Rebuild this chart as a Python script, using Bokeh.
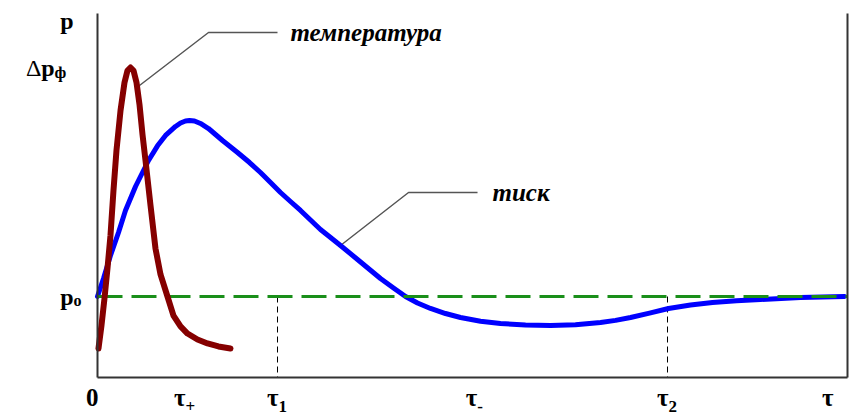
from bokeh.plotting import figure
from bokeh.models import (LinearAxis, FixedTicker, Label, LabelSet,
                          ColumnDataSource, Range1d)
from bokeh.embed import file_html
from bokeh.resources import INLINE

# ---- data (time in arbitrary units, pressure relative to p0) ----
t_axis_end = 10.0                  # right end of the time axis
p_axis_min, p_axis_max = -1.0, 3.494
p0 = 0.0

pressure_t = [0.0, 0.08, 0.173, 0.28, 0.373, 0.507, 0.68, 0.8, 0.907, 1.04,
              1.107, 1.173, 1.227, 1.293, 1.373, 1.48, 1.667, 1.867, 2.027,
              2.173, 2.307, 2.44, 2.573, 2.707, 2.84, 2.973, 3.107, 3.24,
              3.467, 3.773, 3.947, 4.107, 4.267, 4.44, 4.64, 4.84, 5.107,
              5.373, 5.707, 6.04, 6.373, 6.707, 6.907, 7.107, 7.36, 7.613,
              7.907, 8.2, 8.52, 8.84, 9.373, 9.96]
pressure_p = [0.0, 0.222, 0.506, 0.79, 1.062, 1.358, 1.679, 1.86, 1.988,
              2.099, 2.142, 2.167, 2.173, 2.167, 2.136, 2.074, 1.926, 1.778,
              1.654, 1.531, 1.407, 1.284, 1.173, 1.062, 0.944, 0.827, 0.728,
              0.63, 0.457, 0.222, 0.105, 0.0, -0.08, -0.148, -0.21, -0.259,
              -0.305, -0.333, -0.352, -0.358, -0.35, -0.321, -0.295, -0.259,
              -0.205, -0.148, -0.105, -0.074, -0.052, -0.037, -0.012, 0.0]

temp_t = [0.013, 0.053, 0.093, 0.133, 0.173, 0.213, 0.253, 0.307, 0.36,
          0.4, 0.44, 0.48, 0.52, 0.56, 0.6, 0.64, 0.707, 0.773, 0.84, 0.933,
          1.013, 1.107, 1.2, 1.333, 1.467, 1.613, 1.773]
temp_v = [-0.642, -0.358, -0.025, 0.346, 0.753, 1.309, 1.802, 2.296, 2.642,
          2.79, 2.827, 2.79, 2.642, 2.37, 2.0, 1.679, 1.123, 0.593, 0.272,
          0.0, -0.235, -0.37, -0.457, -0.531, -0.58, -0.617, -0.642]

x_tick_values = [0.0, 1.16, 2.4, 5.05, 7.6, 9.8]
x_tick_main = ["0", "τ", "τ", "τ", "τ", "τ"]
x_tick_sub = ["", "+", "1", "-", "2", ""]
marker_times = [2.4, 7.6]          # τ1, τ2
dp_phi = max(temp_v)               # Δpф level
p_axis_top = 3.40                  # "p" axis name level

# callout geometry (annotation)
temp_callout_t = [0.56, 1.48, 2.4]
temp_callout_v = [2.605, 3.259, 3.259]
pres_callout_t = [3.24, 4.147, 5.067]
pres_callout_v = [0.63, 1.284, 1.284]

SERIF = "Liberation Serif"
W, H = 852, 420
PX_T, PX_P = 75.0, 81.0            # pixels per unit
ORIGIN_X, ORIGIN_Y = 97, 296       # where (0, p0) sits on the canvas

x_range = Range1d(-ORIGIN_X / PX_T, (W - ORIGIN_X) / PX_T)
y_range = Range1d(-(H - ORIGIN_Y) / PX_P, ORIGIN_Y / PX_P)

p = figure(width=W, height=H, x_range=x_range, y_range=y_range,
           x_axis_location=None, y_axis_location=None,
           output_backend="svg", toolbar_location=None, min_border=0)
p.xgrid.visible = False
p.ygrid.visible = False
p.outline_line_color = None
p.background_fill_color = "white"
p.border_fill_color = "white"

left_axis = LinearAxis(fixed_location=0.0, bounds=(p_axis_min, p_axis_max))
bottom_axis = LinearAxis(fixed_location=p_axis_min, bounds=(0.0, t_axis_end))
right_axis = LinearAxis(fixed_location=t_axis_end,
                        bounds=(p_axis_min, p_axis_max))
p.add_layout(left_axis, "left")
p.add_layout(bottom_axis, "below")
p.add_layout(right_axis, "right")
for ax in [left_axis, bottom_axis, right_axis]:
    ax.ticker = FixedTicker(ticks=[])
    ax.major_tick_line_color = None
    ax.minor_tick_line_color = None
    ax.major_label_text_font_size = "0px"
    ax.major_label_standoff = 0
    ax.major_tick_out = 0
    ax.major_tick_in = 0
    ax.axis_line_color = "#333333"
    ax.axis_line_width = 2

# callout lines
p.line(temp_callout_t, temp_callout_v, line_color="#555555", line_width=1.5)
p.line(pres_callout_t, pres_callout_v, line_color="#555555", line_width=1.5)

# vertical markers at τ1, τ2
p.segment(x0=marker_times, y0=[p0] * len(marker_times),
          x1=marker_times, y1=[p_axis_min] * len(marker_times),
          line_color="black", line_width=1, line_dash="6 4")

# pressure curve
p.line(pressure_t, pressure_p, line_color="#0000ff", line_width=5,
       line_join="round", line_cap="round")
# p0 level
p.line([0.0, t_axis_end], [p0, p0], line_color="#1a8f1a", line_width=3,
       line_dash="25 9")
# temperature curve
p.line(temp_t, temp_v, line_color="#850000", line_width=6,
       line_join="round", line_cap="round")

# x tick labels
src = ColumnDataSource(dict(x=x_tick_values,
                            y=[p_axis_min] * len(x_tick_values),
                            main=x_tick_main, sub=x_tick_sub))
p.add_layout(LabelSet(x="x", y="y", text="main", source=src,
                      text_align="right", text_baseline="alphabetic",
                      x_offset=1, y_offset=-28, text_font=SERIF,
                      text_font_style="bold", text_font_size="25px",
                      text_color="black"))
p.add_layout(LabelSet(x="x", y="y", text="sub", source=src,
                      text_align="left", text_baseline="alphabetic",
                      x_offset=1, y_offset=-34, text_font=SERIF,
                      text_font_style="bold", text_font_size="17px",
                      text_color="black"))


def lab(x, y, text, xo=0, yo=0, align="left", style="bold", size="24px",
        baseline="middle"):
    p.add_layout(Label(x=x, y=y, text=text, x_offset=xo, y_offset=yo,
                       text_align=align, text_baseline=baseline,
                       text_font=SERIF, text_font_style=style,
                       text_font_size=size, text_color="black"))


# y-axis labels
lab(0.0, p_axis_top, "p", xo=-24, align="right")
lab(0.0, dp_phi, "Δ", xo=-56, align="right", style="normal")
lab(0.0, dp_phi, "p", xo=-43, align="right")
lab(0.0, dp_phi, "ф", xo=-43, yo=-5, size="17px")
lab(0.0, p0, "p", xo=-24, align="right")
lab(0.0, p0, "o", xo=-24, yo=-4, size="16px")

# curve names
lab(temp_callout_t[-1], temp_callout_v[-1], "температура", xo=13,
    style="bold italic", size="25px")
lab(pres_callout_t[-1], pres_callout_v[-1], "тиск", xo=15,
    style="bold italic", size="25px")

open("out.html", "w").write(file_html(p, INLINE))
